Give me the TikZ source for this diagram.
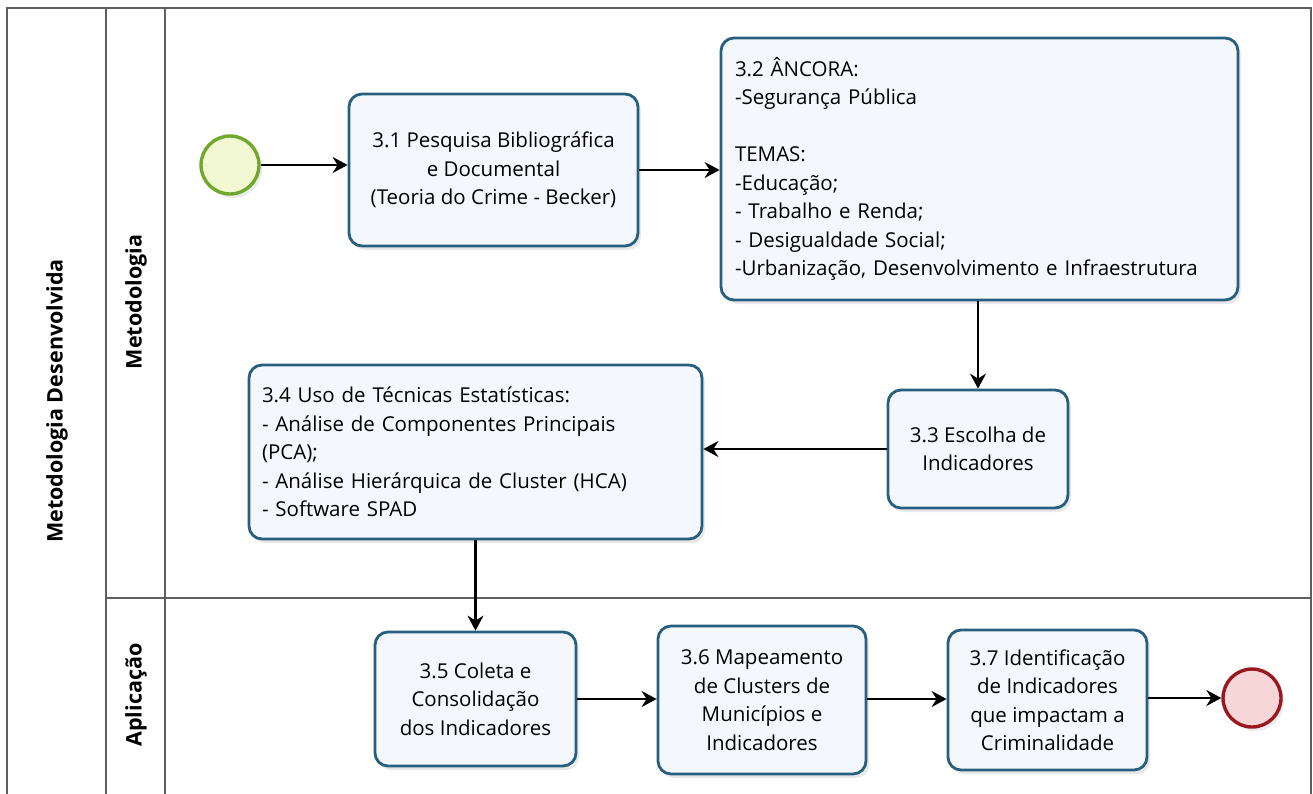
\documentclass[tikz,border=0pt]{standalone}
\usepackage{fontspec}
\setmainfont{Open Sans}
\usetikzlibrary{arrows.meta,shadows}

\definecolor{taskline}{RGB}{38,96,126}
\definecolor{taskfill}{RGB}{244,248,253}
\definecolor{laneline}{RGB}{95,95,95}
\definecolor{startline}{RGB}{112,168,45}
\definecolor{startfill}{RGB}{242,249,210}
\definecolor{endline}{RGB}{155,25,30}
\definecolor{endfill}{RGB}{247,214,216}

\begin{document}
\begin{tikzpicture}[
  x=1pt,y=-1pt,
  every node/.style={font=\fontsize{20.5}{28.5}\selectfont},
  task node/.style={
    draw=taskline,
    line width=2.8pt,
    fill=taskfill,
    rounded corners=13pt,
    align=center,
    inner sep=0pt,
    drop shadow={shadow xshift=3pt,shadow yshift=-4pt,opacity=0.18},
  },
  list node/.style={
    task node,
    align=left,
  },
  event node/.style={
    circle,
    line width=3.4pt,
    minimum size=58pt,
    inner sep=0pt,
    drop shadow={shadow xshift=3pt,shadow yshift=-4pt,opacity=0.15},
  },
  lane label/.style={rotate=90,font=\fontsize{21.5}{24}\selectfont\bfseries},
  lane line/.style={draw=laneline,line width=1.8pt},
  flow/.style={draw,line width=2.2pt,-{Stealth[length=15pt,width=16pt,inset=5pt]}},
  ]
  \useasboundingbox (0,0) rectangle (1313,793);
  % pool and lanes
  \draw[lane line] (7,8) rectangle (1311,810);
  \draw[lane line] (106,8) -- (106,810);
  \draw[lane line] (165,8) -- (165,810);
  \draw[lane line] (106,598) -- (1311,598);
  \node[lane label] (pool)     at (57,401)  {Metodologia Desenvolvida};
  \node[lane label] (lane-met) at (136,302) {Metodologia};
  \node[lane label] (lane-apl) at (136,695) {Aplicação};
  % events
  \node[event node,draw=startline,fill=startfill] (inicio) at (230,165) {};
  \node[event node,draw=endline,fill=endfill]     (fim)    at (1252,698) {};
  % tasks
  \node[task node,minimum width=289pt,minimum height=152pt] (pesquisa) at (493.5,170)
    {3.1 Pesquisa Bibliográfica\\e Documental\\(Teoria do Crime - Becker)};
  \node[list node,minimum width=517pt,minimum height=262pt,text width=489pt] (ancora) at (979.5,169)
    {3.2 ÂNCORA:\\-Segurança Pública\\[28.5pt]TEMAS:\\-Educação;\\- Trabalho e Renda;\\- Desigualdade Social;\\-Urbanização, Desenvolvimento e Infraestrutura};
  \node[task node,minimum width=180pt,minimum height=118pt] (escolha) at (978,449)
    {3.3 Escolha de\\Indicadores};
  \node[list node,minimum width=453pt,minimum height=174pt,text width=427pt] (tecnicas) at (475.5,452)
    {3.4 Uso de Técnicas Estatísticas:\\- Análise de Componentes Principais\\(PCA);\\- Análise Hierárquica de Cluster (HCA)\\- Software SPAD};
  \node[task node,minimum width=201pt,minimum height=134pt] (coleta) at (475.5,699)
    {3.5 Coleta e\\Consolidação\\dos Indicadores};
  \node[task node,minimum width=208pt,minimum height=148pt] (mapeamento) at (762,700)
    {3.6 Mapeamento\\de Clusters de\\Municípios e\\Indicadores};
  \node[task node,minimum width=199pt,minimum height=140pt] (identificacao) at (1047.5,700)
    {3.7 Identificação\\de Indicadores\\que impactam a\\Criminalidade};
  % sequence flows
  \path[flow] (inicio) -- (pesquisa.west |- inicio);
  \path[flow] (pesquisa) -- (ancora.west |- pesquisa);
  \path[flow] (escolha.north |- ancora.south) -- (escolha.north);
  \path[flow] (escolha) -- (tecnicas.east |- escolha);
  \path[flow] (coleta.north |- tecnicas.south) -- (coleta.north);
  \path[flow] (coleta) -- (mapeamento.west |- coleta);
  \path[flow] (mapeamento.east |- coleta) -- (identificacao.west |- coleta);
  \path[flow] (identificacao.east |- fim) -- (fim);
\end{tikzpicture}
\end{document}
